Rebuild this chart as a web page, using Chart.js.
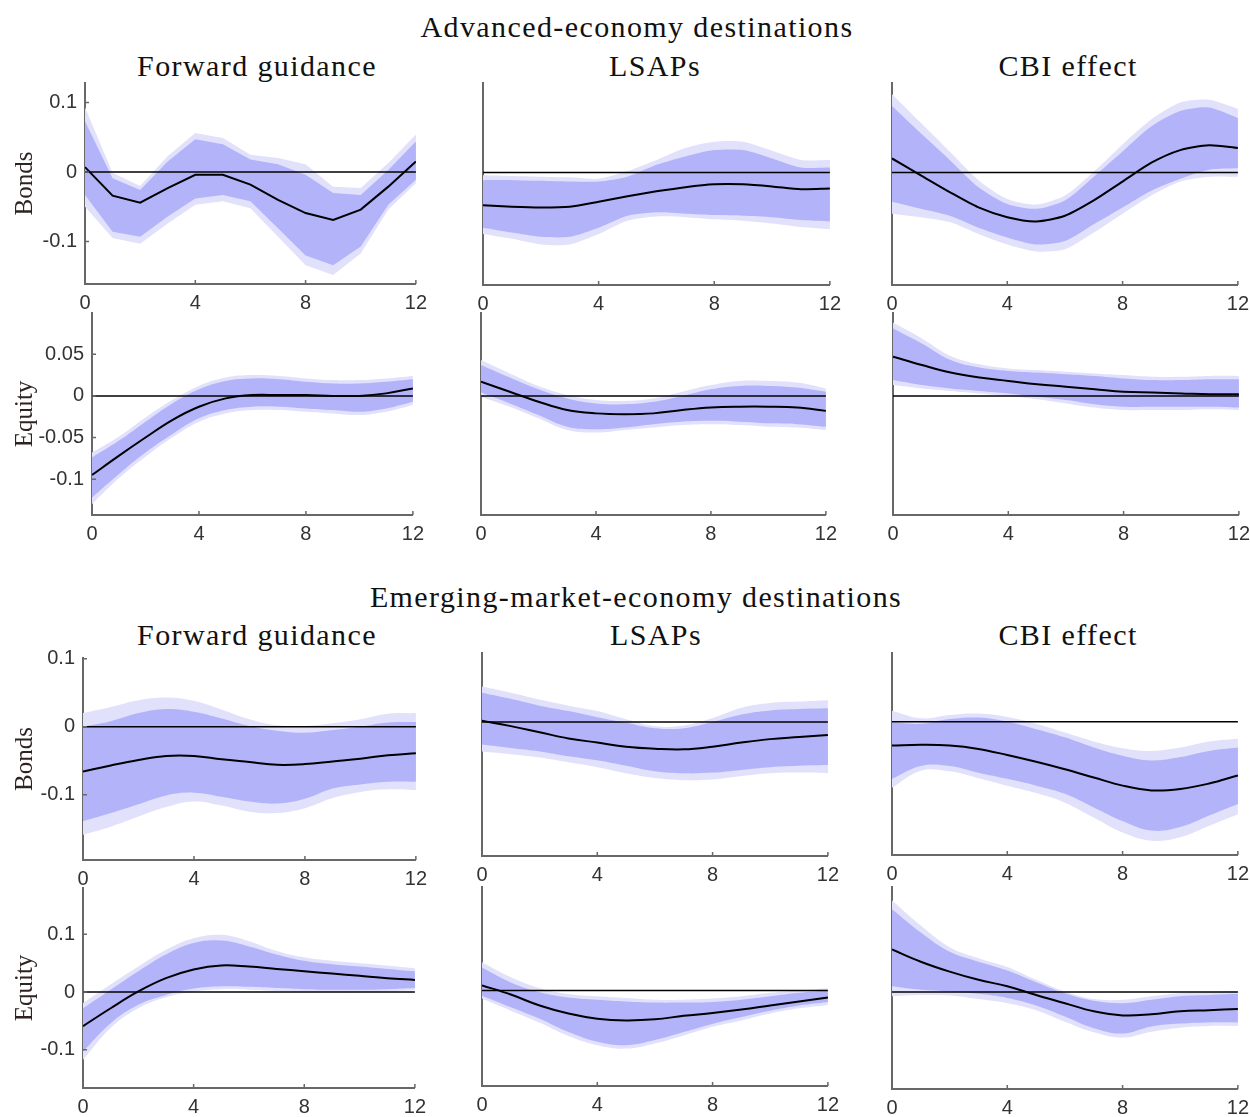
<!DOCTYPE html>
<html>
<head>
<meta charset="utf-8">
<script src="https://cdn.jsdelivr.net/npm/chart.js@4.4.1/dist/chart.umd.min.js"></script>
<style>
  body { margin: 0; background: #fff; width: 1250px; height: 1117px; position: relative; overflow: hidden;
         font-family: 'Liberation Serif', 'Times New Roman', serif; }
  .t { position: absolute; transform: translate(-50%, -50%); font-size: 30px; letter-spacing: 1.4px;
       color: #111; white-space: nowrap; }
  canvas { position: absolute; }
</style>
</head>
<body>
<div class="t" style="left:637px;top:27px">Advanced-economy destinations</div>
<div class="t" style="left:257px;top:66px">Forward guidance</div>
<div class="t" style="left:655px;top:66px">LSAPs</div>
<div class="t" style="left:1068px;top:66px">CBI effect</div>
<div class="t" style="left:636px;top:597px">Emerging-market-economy destinations</div>
<div class="t" style="left:257px;top:635px">Forward guidance</div>
<div class="t" style="left:656px;top:635px">LSAPs</div>
<div class="t" style="left:1068px;top:635px">CBI effect</div>

<script>
// horizons (quarters) and tick labels
const horizons = [0, 1, 2, 3, 4, 5, 6, 7, 8, 9, 10, 11, 12];
const xTickValues = [0, 4, 8, 12];
const aeBondTicks = [-0.1, 0, 0.1];
const aeEquityTicks = [-0.1, -0.05, 0, 0.05];
const emBondTicks = [-0.1, 0, 0.1];
const emEquityTicks = [-0.1, 0, 0.1];

// --- Advanced economies, bonds ---
const aeBondsFgMid   = [0.007, -0.034, -0.044, -0.023, -0.004, -0.004, -0.018, -0.040, -0.059, -0.069, -0.054, -0.021, 0.015];
const aeBondsFgInHi  = [0.073, -0.009, -0.026, 0.015, 0.047, 0.040, 0.018, 0.011, -0.004, -0.030, -0.033, 0.003, 0.044];
const aeBondsFgInLo  = [-0.033, -0.086, -0.093, -0.064, -0.038, -0.033, -0.042, -0.081, -0.120, -0.134, -0.107, -0.047, -0.011];
const aeBondsFgOutHi = [0.093, -0.001, -0.020, 0.023, 0.056, 0.049, 0.025, 0.020, 0.011, -0.021, -0.023, 0.013, 0.054];
const aeBondsFgOutLo = [-0.050, -0.095, -0.103, -0.074, -0.047, -0.042, -0.052, -0.093, -0.134, -0.148, -0.117, -0.054, -0.016];

const aeBondsLsMid   = [-0.047, -0.049, -0.050, -0.049, -0.042, -0.034, -0.027, -0.021, -0.017, -0.017, -0.020, -0.024, -0.023];
const aeBondsLsInHi  = [-0.011, -0.011, -0.012, -0.013, -0.013, -0.006, 0.011, 0.023, 0.032, 0.032, 0.020, 0.007, 0.007];
const aeBondsLsInLo  = [-0.079, -0.086, -0.092, -0.092, -0.079, -0.062, -0.057, -0.059, -0.061, -0.062, -0.064, -0.068, -0.070];
const aeBondsLsOutHi = [-0.004, -0.005, -0.006, -0.007, -0.009, 0.002, 0.018, 0.035, 0.044, 0.044, 0.031, 0.018, 0.018];
const aeBondsLsOutLo = [-0.088, -0.095, -0.103, -0.103, -0.088, -0.069, -0.063, -0.064, -0.067, -0.069, -0.073, -0.078, -0.081];

const aeBondsCbMid   = [0.020, -0.004, -0.028, -0.050, -0.064, -0.070, -0.062, -0.040, -0.013, 0.014, 0.032, 0.039, 0.035];
const aeBondsCbInHi  = [0.095, 0.056, 0.018, -0.021, -0.045, -0.052, -0.040, -0.006, 0.030, 0.066, 0.088, 0.093, 0.078];
const aeBondsCbInLo  = [-0.042, -0.052, -0.062, -0.079, -0.093, -0.103, -0.098, -0.074, -0.050, -0.026, -0.009, 0.004, 0.006];
const aeBondsCbOutHi = [0.112, 0.071, 0.030, -0.011, -0.038, -0.046, -0.033, 0.001, 0.040, 0.076, 0.100, 0.104, 0.091];
const aeBondsCbOutLo = [-0.059, -0.064, -0.071, -0.088, -0.103, -0.113, -0.110, -0.086, -0.059, -0.033, -0.013, -0.006, -0.006];

// --- Advanced economies, equity ---
const aeEqFgMid   = [-0.095, -0.072, -0.050, -0.029, -0.013, -0.003, 0.001, 0.001, 0.001, 0.000, 0.000, 0.003, 0.009];
const aeEqFgInHi  = [-0.074, -0.054, -0.031, -0.009, 0.008, 0.018, 0.021, 0.020, 0.017, 0.015, 0.015, 0.017, 0.020];
const aeEqFgInLo  = [-0.122, -0.094, -0.068, -0.046, -0.027, -0.017, -0.013, -0.013, -0.015, -0.017, -0.019, -0.015, -0.007];
const aeEqFgOutHi = [-0.068, -0.049, -0.026, -0.005, 0.012, 0.022, 0.025, 0.024, 0.021, 0.019, 0.019, 0.021, 0.024];
const aeEqFgOutLo = [-0.130, -0.099, -0.073, -0.050, -0.031, -0.021, -0.017, -0.017, -0.019, -0.021, -0.023, -0.019, -0.011];

const aeEqLsMid   = [0.017, 0.005, -0.007, -0.017, -0.021, -0.022, -0.021, -0.017, -0.014, -0.013, -0.013, -0.014, -0.018];
const aeEqLsInHi  = [0.037, 0.022, 0.008, -0.003, -0.009, -0.010, -0.007, 0.000, 0.008, 0.012, 0.012, 0.010, 0.005];
const aeEqLsInLo  = [0.004, -0.009, -0.023, -0.037, -0.040, -0.038, -0.034, -0.031, -0.030, -0.031, -0.033, -0.034, -0.037];
const aeEqLsOutHi = [0.043, 0.027, 0.012, 0.001, -0.005, -0.006, -0.003, 0.005, 0.013, 0.018, 0.018, 0.016, 0.009];
const aeEqLsOutLo = [-0.001, -0.013, -0.027, -0.041, -0.044, -0.041, -0.038, -0.035, -0.034, -0.035, -0.037, -0.038, -0.041];

const aeEqCbMid   = [0.047, 0.037, 0.028, 0.022, 0.018, 0.014, 0.011, 0.008, 0.005, 0.004, 0.003, 0.002, 0.002];
const aeEqCbInHi  = [0.081, 0.063, 0.043, 0.034, 0.030, 0.028, 0.026, 0.024, 0.021, 0.019, 0.019, 0.020, 0.020];
const aeEqCbInLo  = [0.019, 0.013, 0.009, 0.006, 0.003, -0.001, -0.005, -0.010, -0.013, -0.013, -0.013, -0.013, -0.014];
const aeEqCbOutHi = [0.088, 0.069, 0.048, 0.038, 0.033, 0.031, 0.029, 0.027, 0.025, 0.023, 0.023, 0.024, 0.024];
const aeEqCbOutLo = [0.013, 0.009, 0.006, 0.003, 0.000, -0.004, -0.009, -0.014, -0.017, -0.017, -0.017, -0.016, -0.017];

// --- Emerging markets, bonds ---
const emBondsFgMid   = [-0.066, -0.057, -0.049, -0.043, -0.043, -0.048, -0.052, -0.056, -0.055, -0.051, -0.047, -0.042, -0.039];
const emBondsFgInHi  = [0.000, 0.008, 0.020, 0.026, 0.022, 0.012, 0.001, -0.006, -0.009, -0.005, 0.000, 0.006, 0.007];
const emBondsFgInLo  = [-0.139, -0.127, -0.114, -0.101, -0.097, -0.103, -0.110, -0.113, -0.106, -0.091, -0.085, -0.081, -0.081];
const emBondsFgOutHi = [0.020, 0.029, 0.039, 0.043, 0.038, 0.025, 0.011, 0.002, 0.001, 0.005, 0.011, 0.019, 0.020];
const emBondsFgOutLo = [-0.159, -0.147, -0.132, -0.118, -0.110, -0.116, -0.125, -0.127, -0.120, -0.105, -0.096, -0.092, -0.093];

const emBondsLsMid   = [0.002, -0.006, -0.015, -0.024, -0.030, -0.036, -0.039, -0.040, -0.036, -0.030, -0.025, -0.022, -0.019];
const emBondsLsInHi  = [0.043, 0.034, 0.024, 0.016, 0.007, -0.001, -0.009, -0.009, 0.000, 0.011, 0.017, 0.019, 0.020];
const emBondsLsInLo  = [-0.033, -0.038, -0.043, -0.050, -0.056, -0.064, -0.072, -0.075, -0.074, -0.070, -0.066, -0.064, -0.063];
const emBondsLsOutHi = [0.052, 0.043, 0.033, 0.024, 0.016, 0.004, -0.006, -0.005, 0.006, 0.021, 0.028, 0.030, 0.032];
const emBondsLsOutLo = [-0.043, -0.047, -0.052, -0.059, -0.066, -0.075, -0.082, -0.085, -0.084, -0.079, -0.075, -0.074, -0.075];

const emBondsCbMid   = [-0.035, -0.034, -0.035, -0.040, -0.049, -0.059, -0.070, -0.082, -0.094, -0.101, -0.099, -0.091, -0.079];
const emBondsCbInHi  = [-0.001, -0.003, 0.004, 0.006, 0.000, -0.011, -0.023, -0.038, -0.050, -0.057, -0.052, -0.043, -0.038];
const emBondsCbInLo  = [-0.084, -0.065, -0.065, -0.075, -0.084, -0.094, -0.106, -0.126, -0.146, -0.160, -0.155, -0.138, -0.121];
const emBondsCbOutHi = [0.016, 0.005, 0.010, 0.012, 0.007, -0.003, -0.016, -0.029, -0.039, -0.043, -0.038, -0.029, -0.025];
const emBondsCbOutLo = [-0.097, -0.072, -0.073, -0.083, -0.094, -0.105, -0.119, -0.141, -0.163, -0.175, -0.170, -0.153, -0.136];

// --- Emerging markets, equity ---
const emEqFgMid   = [-0.059, -0.028, 0.001, 0.024, 0.039, 0.046, 0.044, 0.040, 0.036, 0.032, 0.028, 0.024, 0.021];
const emEqFgInHi  = [-0.028, 0.004, 0.036, 0.065, 0.085, 0.089, 0.079, 0.065, 0.054, 0.048, 0.044, 0.040, 0.036];
const emEqFgInLo  = [-0.103, -0.054, -0.022, -0.005, 0.006, 0.010, 0.009, 0.007, 0.005, 0.004, 0.004, 0.005, 0.007];
const emEqFgOutHi = [-0.019, 0.013, 0.044, 0.073, 0.093, 0.099, 0.088, 0.071, 0.060, 0.054, 0.050, 0.046, 0.041];
const emEqFgOutLo = [-0.117, -0.062, -0.028, -0.009, 0.001, 0.005, 0.004, 0.002, 0.001, 0.000, 0.000, 0.001, 0.003];

const emEqLsMid   = [0.009, -0.007, -0.026, -0.040, -0.049, -0.052, -0.050, -0.044, -0.039, -0.033, -0.026, -0.019, -0.012];
const emEqLsInHi  = [0.040, 0.014, -0.003, -0.012, -0.016, -0.019, -0.021, -0.021, -0.020, -0.016, -0.010, -0.004, 0.000];
const emEqLsInLo  = [-0.009, -0.029, -0.049, -0.072, -0.089, -0.095, -0.086, -0.072, -0.058, -0.046, -0.035, -0.026, -0.020];
const emEqLsOutHi = [0.049, 0.023, 0.004, -0.006, -0.010, -0.013, -0.016, -0.016, -0.014, -0.010, -0.004, 0.000, 0.004];
const emEqLsOutLo = [-0.014, -0.035, -0.056, -0.079, -0.095, -0.101, -0.092, -0.078, -0.063, -0.052, -0.040, -0.031, -0.025];

const emEqCbMid   = [0.073, 0.052, 0.035, 0.021, 0.010, -0.005, -0.019, -0.033, -0.040, -0.038, -0.033, -0.031, -0.029];
const emEqCbInHi  = [0.142, 0.102, 0.069, 0.052, 0.037, 0.017, -0.002, -0.015, -0.019, -0.013, -0.007, -0.005, -0.003];
const emEqCbInLo  = [0.010, 0.004, 0.001, -0.003, -0.010, -0.023, -0.042, -0.062, -0.071, -0.059, -0.054, -0.052, -0.052];
const emEqCbOutHi = [0.157, 0.114, 0.077, 0.058, 0.043, 0.021, 0.001, -0.012, -0.013, -0.007, -0.002, 0.000, 0.001];
const emEqCbOutLo = [-0.007, -0.005, -0.006, -0.012, -0.019, -0.031, -0.051, -0.069, -0.078, -0.068, -0.061, -0.058, -0.058];

const innerBand = '#b3b3fa';
const outerBand = '#e1e1fc';
const axisGray = '#686868';
const PAD_TOP = 26;

Chart.defaults.font.family = "'Liberation Sans', Arial, sans-serif";

// zero line and MATLAB-style inward ticks
const axisMarks = {
    id: 'axisMarks',
    afterDatasetsDraw(chart, args, opts) {
        const { ctx, chartArea: a, scales: { x, y } } = chart;
        const y0 = y.getPixelForValue(0);
        ctx.save();
        ctx.beginPath();
        ctx.strokeStyle = '#000';
        ctx.lineWidth = 1.5;
        ctx.moveTo(a.left, y0);
        ctx.lineTo(a.right, y0);
        ctx.stroke();
        ctx.beginPath();
        ctx.strokeStyle = axisGray;
        ctx.lineWidth = 1.5;
        xTickValues.forEach(v => {
            const px = x.getPixelForValue(v);
            ctx.moveTo(px, a.bottom);
            ctx.lineTo(px, a.bottom - 4);
        });
        (opts.yTicks || []).forEach(v => {
            const py = y.getPixelForValue(v);
            ctx.moveTo(a.left, py);
            ctx.lineTo(a.left + 4, py);
        });
        ctx.stroke();
        ctx.restore();
    }
};

const pts = arr => horizons.map((h, i) => ({ x: h, y: arr[i] }));

function drawPanel(p) {
    const [l, t, r, b] = p.box;
    const left = p.yTitle ? 0 : l - 20;
    const top = t - PAD_TOP;
    const cv = document.createElement('canvas');
    cv.width = r + 16 - left;
    cv.height = b - top + 40;
    cv.style.left = left + 'px';
    cv.style.top = top + 'px';
    document.body.appendChild(cv);

    const hidden = 'rgba(0,0,0,0)';
    new Chart(cv, {
        type: 'line',
        data: {
            datasets: [
                { data: pts(p.mid), borderColor: '#000', borderWidth: 2, fill: false, order: 0 },
                { data: pts(p.inHi), borderColor: hidden, borderWidth: 1, backgroundColor: innerBand, fill: '+1', order: 1 },
                { data: pts(p.inLo), borderColor: hidden, borderWidth: 1, fill: false, order: 1 },
                { data: pts(p.outHi), borderColor: hidden, borderWidth: 1, backgroundColor: outerBand, fill: '+1', order: 2 },
                { data: pts(p.outLo), borderColor: hidden, borderWidth: 1, fill: false, order: 2 }
            ]
        },
        options: {
            responsive: false,
            animation: false,
            devicePixelRatio: 1,
            layout: { padding: { top: PAD_TOP, right: 16, left: 0, bottom: 0 } },
            elements: { point: { radius: 0 }, line: { tension: p.tension } },
            plugins: {
                legend: { display: false },
                tooltip: { enabled: false },
                axisMarks: { yTicks: p.yTitle ? p.ticks : null }
            },
            scales: {
                x: {
                    type: 'linear', min: 0, max: 12,
                    afterBuildTicks: s => { s.ticks = xTickValues.map(v => ({ value: v })); },
                    afterFit: s => { s.height = 40; },
                    grid: { display: false, drawTicks: false },
                    border: { display: true, color: axisGray, width: 2 },
                    ticks: { padding: 7, color: '#333', font: { size: 20 }, maxRotation: 0, autoSkip: false }
                },
                y: {
                    min: p.range[0], max: p.range[1],
                    afterBuildTicks: s => { s.ticks = p.ticks.map(v => ({ value: v })); },
                    afterFit: s => { s.width = l - left; },
                    grid: { display: false, drawTicks: false },
                    border: { display: true, color: axisGray, width: 2 },
                    ticks: { display: !!p.yTitle, padding: 8, color: '#333', font: { size: 20 },
                             callback: v => String(v) },
                    title: { display: !!p.yTitle, text: p.yTitle, color: '#2e2222',
                             font: { family: "'Liberation Serif', 'Times New Roman', serif", size: 25 },
                             padding: { top: 10, bottom: 0 } }
                }
            }
        },
        plugins: [axisMarks]
    });
}

const aeBondRange = [-0.161, 0.128];
const aeEquityRange = [-0.143, 0.0995];
const emBondRange = [-0.196, 0.101];
const emEquityRange = [-0.166, 0.18];

drawPanel({ box: [85, 83, 418, 284], range: aeBondRange, ticks: aeBondTicks, yTitle: 'Bonds', tension: 0,
    mid: aeBondsFgMid, inHi: aeBondsFgInHi, inLo: aeBondsFgInLo, outHi: aeBondsFgOutHi, outLo: aeBondsFgOutLo });
drawPanel({ box: [483, 83, 832, 285], range: aeBondRange, ticks: aeBondTicks, tension: 0.25,
    mid: aeBondsLsMid, inHi: aeBondsLsInHi, inLo: aeBondsLsInLo, outHi: aeBondsLsOutHi, outLo: aeBondsLsOutLo });
drawPanel({ box: [892, 83, 1240, 285], range: aeBondRange, ticks: aeBondTicks, tension: 0.25,
    mid: aeBondsCbMid, inHi: aeBondsCbInHi, inLo: aeBondsCbInLo, outHi: aeBondsCbOutHi, outLo: aeBondsCbOutLo });

drawPanel({ box: [92, 313, 415, 515], range: aeEquityRange, ticks: aeEquityTicks, yTitle: 'Equity', tension: 0.4,
    mid: aeEqFgMid, inHi: aeEqFgInHi, inLo: aeEqFgInLo, outHi: aeEqFgOutHi, outLo: aeEqFgOutLo });
drawPanel({ box: [481, 313, 828, 515], range: aeEquityRange, ticks: aeEquityTicks, tension: 0.4,
    mid: aeEqLsMid, inHi: aeEqLsInHi, inLo: aeEqLsInLo, outHi: aeEqLsOutHi, outLo: aeEqLsOutLo });
drawPanel({ box: [893, 313, 1241, 515], range: aeEquityRange, ticks: aeEquityTicks, tension: 0.4,
    mid: aeEqCbMid, inHi: aeEqCbInHi, inLo: aeEqCbInLo, outHi: aeEqCbOutHi, outLo: aeEqCbOutLo });

drawPanel({ box: [83, 658, 418, 860], range: emBondRange, ticks: emBondTicks, yTitle: 'Bonds', tension: 0.4,
    mid: emBondsFgMid, inHi: emBondsFgInHi, inLo: emBondsFgInLo, outHi: emBondsFgOutHi, outLo: emBondsFgOutLo });
drawPanel({ box: [482, 653, 830, 856], range: emBondRange, ticks: emBondTicks, tension: 0.4,
    mid: emBondsLsMid, inHi: emBondsLsInHi, inLo: emBondsLsInLo, outHi: emBondsLsOutHi, outLo: emBondsLsOutLo });
drawPanel({ box: [892, 653, 1240, 855], range: emBondRange, ticks: emBondTicks, tension: 0.4,
    mid: emBondsCbMid, inHi: emBondsCbInHi, inLo: emBondsCbInLo, outHi: emBondsCbOutHi, outLo: emBondsCbOutLo });

drawPanel({ box: [83, 888, 417, 1088], range: emEquityRange, ticks: emEquityTicks, yTitle: 'Equity', tension: 0.4,
    mid: emEqFgMid, inHi: emEqFgInHi, inLo: emEqFgInLo, outHi: emEqFgOutHi, outLo: emEqFgOutLo });
drawPanel({ box: [482, 887, 830, 1086], range: emEquityRange, ticks: emEquityTicks, tension: 0.4,
    mid: emEqLsMid, inHi: emEqLsInHi, inLo: emEqLsInLo, outHi: emEqLsOutHi, outLo: emEqLsOutLo });
drawPanel({ box: [892, 887, 1240, 1089], range: emEquityRange, ticks: emEquityTicks, tension: 0.4,
    mid: emEqCbMid, inHi: emEqCbInHi, inLo: emEqCbInLo, outHi: emEqCbOutHi, outLo: emEqCbOutLo });
</script>
</body>
</html>
